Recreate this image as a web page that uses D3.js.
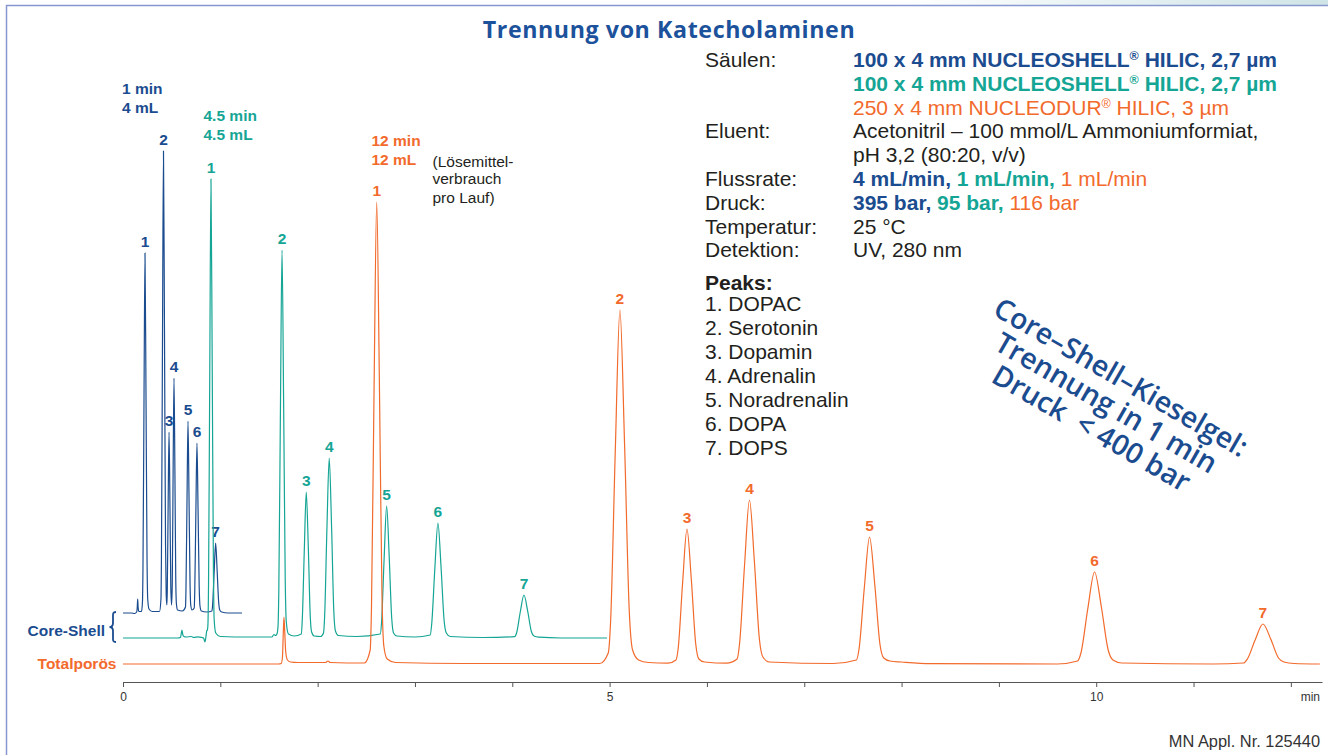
<!DOCTYPE html>
<html>
<head>
<meta charset="utf-8">
<script src="https://cdn.jsdelivr.net/npm/d3@7"></script>
<style>
  body { margin: 0; background: #fff; }
  svg { display: block; font-family: "Liberation Sans", Arial, sans-serif; }
</style>
</head>
<body>
<svg id="chart" width="1328" height="755"></svg>
<script>
// chromatogram traces, [retention time (min), signal]
// NUCLEOSHELL, 4 mL/min (1 min run)
const fastTrace = [
  [0.000, 0], [0.085, 0], [0.120, -0.5], [0.140, 1], [0.146, 5], [0.151, 14], [0.156, 5], [0.163, 1.5], [0.190, 1.5],
  [0.200, 11], [0.205, 43], [0.216, 216], [0.226, 360], [0.236, 223], [0.247, 54], [0.254, 14], [0.267, 4], [0.300, 1.5], [0.375, 1.5],
  [0.390, 14], [0.395, 55], [0.406, 277], [0.416, 462], [0.426, 286], [0.437, 69], [0.444, 18], [0.451, 8],
  [0.455, 22], [0.464, 109], [0.473, 181], [0.482, 112], [0.491, 27], [0.499, 8],
  [0.506, 28], [0.515, 141], [0.524, 235], [0.533, 146], [0.542, 35], [0.549, 9], [0.561, 3], [0.610, 2],
  [0.642, 6], [0.647, 23], [0.658, 115], [0.668, 192], [0.678, 119], [0.689, 29], [0.696, 8], [0.709, 3],
  [0.732, 5], [0.737, 20], [0.749, 102], [0.760, 170], [0.771, 105], [0.783, 26], [0.791, 7], [0.805, 2], [0.860, 1],
  [0.914, 2], [0.921, 8], [0.937, 42], [0.952, 70], [0.967, 43], [0.983, 11], [0.994, 3], [1.014, 1], [1.080, 0], [1.223, 0]
];
// NUCLEOSHELL, 1 mL/min (4.5 min run)
const coreTrace = [
  [0.000, 0], [0.560, 0], [0.590, 0.5], [0.598, 4], [0.606, 8], [0.614, 3.5], [0.625, 1.5], [0.650, 1], [0.700, 1.5],
  [0.730, 0.5], [0.770, 1.2], [0.810, 0.5], [0.828, 0], [0.842, -4], [0.852, 1], [0.860, 7], [0.867, 8],
  [0.873, 14], [0.879, 55], [0.892, 275], [0.904, 459], [0.916, 285], [0.929, 69], [0.937, 18], [0.953, 5], [1.000, 1.5],
  [1.300, 1], [1.530, 1], [1.551, 3.5], [1.568, 2.5], [1.582, 4],
  [1.593, 12], [1.601, 47], [1.618, 233], [1.634, 388], [1.650, 241], [1.667, 58], [1.678, 16], [1.700, 4], [1.760, 2],
  [1.832, 4], [1.842, 18], [1.863, 88], [1.883, 146], [1.904, 91], [1.924, 22], [1.938, 6], [1.965, 2], [2.030, 1.5],
  [2.060, 5], [2.072, 22], [2.095, 108], [2.119, 180], [2.143, 112], [2.166, 27], [2.183, 7], [2.213, 2.5], [2.400, 1.5],
  [2.644, 4], [2.657, 16], [2.683, 79], [2.709, 132], [2.735, 82], [2.761, 20], [2.780, 5], [2.814, 2], [3.000, 1],
  [3.157, 3], [3.172, 14], [3.204, 69], [3.236, 115], [3.268, 71], [3.300, 17], [3.322, 5], [3.363, 1.5], [3.700, 0.5],
  [4.025, 1.3], [4.044, 5], [4.082, 26], [4.120, 43], [4.158, 27], [4.196, 6.5], [4.223, 2], [4.272, 0.8], [4.500, 0], [4.973, 0]
];
// NUCLEODUR (totally porous), 1 mL/min (12 min run)
const totalTrace = [
  [0.000, 0], [1.600, 0], [1.625, 0.5], [1.638, 6], [1.646, 28], [1.654, 47], [1.662, 32], [1.672, 12], [1.690, 4],
  [1.720, 2], [1.800, 1.5], [2.080, 1.5], [2.106, 3], [2.130, 1.5], [2.480, 1],
  [2.540, 14], [2.553, 55], [2.580, 277], [2.607, 462], [2.634, 286], [2.661, 69], [2.680, 18], [2.715, 5], [2.800, 1.5],
  [3.500, 0.5], [4.900, 0.5],
  [4.986, 11], [5.010, 42], [5.058, 212], [5.106, 354], [5.154, 219], [5.202, 53], [5.236, 14], [5.298, 4], [5.400, 1.5], [5.600, 0.8],
  [5.682, 4], [5.705, 16], [5.750, 81], [5.795, 135], [5.840, 84], [5.885, 20], [5.917, 5], [5.975, 2], [6.200, 0.8],
  [6.310, 5], [6.335, 20], [6.386, 98], [6.437, 164], [6.488, 102], [6.539, 25], [6.575, 7], [6.641, 2], [7.300, 0.5],
  [7.536, 4], [7.563, 15], [7.617, 76], [7.671, 127], [7.725, 79], [7.779, 19], [7.817, 6], [7.880, 3], [8.000, 2], [8.300, 0.3], [9.600, 0],
  [9.808, 3], [9.843, 11], [9.913, 55], [9.983, 92], [10.053, 57], [10.123, 14], [10.172, 4], [10.263, 1], [11.200, 0],
  [11.513, 1], [11.553, 5], [11.633, 24], [11.713, 40], [11.793, 25], [11.873, 6], [11.929, 2], [12.033, 0.5], [12.298, 0]
];

// peak numbers and retention times
const fastPeaks = [["1", 0.226], ["2", 0.416], ["3", 0.473], ["4", 0.524], ["5", 0.668], ["6", 0.760], ["7", 0.952]];
const corePeaks = [["1", 0.904], ["2", 1.634], ["3", 1.883], ["4", 2.119], ["5", 2.709], ["6", 3.236], ["7", 4.120]];
const totalPeaks = [["1", 2.607], ["2", 5.106], ["3", 5.795], ["4", 6.437], ["5", 7.671], ["6", 9.983], ["7", 11.713]];

const peakNames = ["DOPAC", "Serotonin", "Dopamin", "Adrenalin", "Noradrenalin", "DOPA", "DOPS"];
const tickValues = d3.range(0, 13);
const tickLabels = [0, 5, 10];

const BLUE = "#1b4c8f", TEAL = "#15a595", ORANGE = "#f26a2c", INK = "#231f20";

const svg = d3.select("#chart");

// frame
const grad = svg.append("defs").append("linearGradient").attr("id", "band");
grad.append("stop").attr("offset", "0%").attr("stop-color", "#ffffff");
grad.append("stop").attr("offset", "100%").attr("stop-color", "#cfe4e6");
svg.append("rect").attr("x", 900).attr("y", 0).attr("width", 428).attr("height", 5).attr("fill", "url(#band)");
svg.append("path").attr("d", "M6.5,755V5.5H1328").attr("fill", "none").attr("stroke", "#8797d0").attr("stroke-width", 1.5);

const x = d3.scaleLinear().domain([0, 12.32]).range([123, 1322]);
const y = d3.scaleLinear().domain([0, 520]).range([664, 144]);

const series = [
  { data: fastTrace, peaks: fastPeaks, color: BLUE, offset: 51 },
  { data: coreTrace, peaks: corePeaks, color: TEAL, offset: 26 },
  { data: totalTrace, peaks: totalPeaks, color: ORANGE, offset: 0 }
];

// axis
const axis = svg.append("g")
  .attr("transform", "translate(0,682)")
  .call(d3.axisBottom(x).tickValues(tickValues).tickSize(5).tickSizeOuter(0).tickPadding(5)
    .tickFormat(d => tickLabels.includes(d) ? d : ""));
axis.select(".domain").attr("stroke", "#555");
axis.selectAll(".tick line").attr("stroke", "#555");
axis.selectAll(".tick text").attr("fill", "#333").style("font-size", "12px").style("font-family", "Liberation Sans, Arial, sans-serif");
svg.append("text").attr("x", 1320).attr("y", 701).attr("text-anchor", "end")
  .style("font-size", "12px").attr("fill", "#333").text("min");

// traces
series.forEach(s => {
  const line = d3.line()
    .x(d => x(d[0]))
    .y(d => y(d[1] + s.offset))
    .curve(d3.curveMonotoneX);
  svg.append("path")
    .datum(s.data)
    .attr("fill", "none")
    .attr("stroke", s.color)
    .attr("stroke-width", 1.2)
    .attr("d", line);

  svg.append("g")
    .selectAll("text")
    .data(s.peaks)
    .join("text")
    .attr("x", d => x(d[1]))
    .attr("y", d => y(d3.least(s.data, p => Math.abs(p[0] - d[1]))[1] + s.offset) - 6.5)
    .attr("text-anchor", "middle")
    .attr("fill", s.color)
    .style("font-size", "15.5px")
    .style("font-weight", "bold")
    .text(d => d[0]);
});

// run annotations
const note = (xp, ys, lines, color, bold) => {
  svg.append("g").selectAll("text").data(lines).join("text")
    .attr("x", xp).attr("y", (d, i) => ys[i])
    .attr("fill", color)
    .style("font-size", "15.5px")
    .style("font-weight", bold ? "bold" : "normal")
    .text(d => d);
};
note(122, [93.5, 112.5], ["1 min", "4 mL"], BLUE, true);
note(203.5, [120.5, 139.5], ["4.5 min", "4.5 mL"], TEAL, true);
note(371.5, [145.5, 164.5], ["12 min", "12 mL"], ORANGE, true);
note(432.5, [166.5, 184, 202.5], ["(Lösemittel-", "verbrauch", "pro Lauf)"], INK, false);

// series names
svg.append("text").attr("x", 105).attr("y", 635.5).attr("text-anchor", "end")
  .attr("fill", BLUE).style("font-size", "15.5px").style("font-weight", "bold").text("Core-Shell");
svg.append("path")
  .attr("d", "M116,612 C112.5,612 113,614 113,618 L113,623 C113,626 112,627 109.5,627 C112,627 113,628 113,631 L113,637 C113,640 112.5,642 116,642")
  .attr("fill", "none").attr("stroke", BLUE).attr("stroke-width", 1.8);
svg.append("text").attr("x", 116.5).attr("y", 669).attr("text-anchor", "end")
  .attr("fill", ORANGE).style("font-size", "15.5px").style("font-weight", "bold").text("Totalporös");

// title
svg.append("text").attr("x", 669).attr("y", 38).attr("text-anchor", "middle")
  .attr("fill", "#1c529b").style("font-family", "'Open Sans', sans-serif").style("font-weight", 700)
  .style("font-size", "23.2px").style("letter-spacing", "0.6px").text("Trennung von Katecholaminen");

// conditions
const infoRows = [
  ["Säulen:", [["100 x 4 mm NUCLEOSHELL", BLUE, 1], ["®", BLUE, 1, 1], [" HILIC, 2,7 µm", BLUE, 1]]],
  ["", [["100 x 4 mm NUCLEOSHELL", TEAL, 1], ["®", TEAL, 1, 1], [" HILIC, 2,7 µm", TEAL, 1]]],
  ["", [["250 x 4 mm NUCLEODUR", ORANGE, 0], ["®", ORANGE, 0, 1], [" HILIC, 3 µm", ORANGE, 0]]],
  ["Eluent:", [["Acetonitril – 100 mmol/L Ammoniumformiat,", INK, 0]]],
  ["", [["pH 3,2 (80:20, v/v)", INK, 0]]],
  ["Flussrate:", [["4 mL/min, ", BLUE, 1], ["1 mL/min, ", TEAL, 1], ["1 mL/min", ORANGE, 0]]],
  ["Druck:", [["395 bar, ", BLUE, 1], ["95 bar, ", TEAL, 1], ["116 bar", ORANGE, 0]]],
  ["Temperatur:", [["25 °C", INK, 0]]],
  ["Detektion:", [["UV, 280 nm", INK, 0]]]
];
const info = svg.append("g").style("font-size", "21px");
infoRows.forEach((r, i) => {
  const yy = 67 + i * 23.8;
  info.append("text").attr("x", 705).attr("y", yy).attr("fill", INK).text(r[0]);
  const t = info.append("text").attr("x", 853).attr("y", yy);
  r[1].forEach((p, j) => {
    const ts = t.append("tspan").attr("fill", p[1]).style("font-weight", p[2] ? "bold" : "normal").text(p[0]);
    if (p[3]) ts.attr("dy", -7).style("font-size", "12.5px");
    else if (j > 0 && r[1][j - 1][3]) ts.attr("dy", 7);
  });
});

// peak list
const plist = svg.append("g").style("font-size", "21px").attr("fill", INK);
plist.append("text").attr("x", 705).attr("y", 289.5).style("font-weight", "bold").text("Peaks:");
plist.selectAll("text.pk").data(peakNames).join("text").attr("class", "pk")
  .attr("x", 705).attr("y", (d, i) => 310.5 + i * 24)
  .text((d, i) => `${i + 1}. ${d}`);

// slogan
const slogan = svg.append("g").attr("transform", "translate(1116,386) rotate(30)")
  .attr("fill", BLUE).style("font-family", "'Open Sans', sans-serif").style("font-weight", 600).style("font-size", "28.5px");
slogan.selectAll("text").data(["Core–Shell–Kieselgel:", "Trennung in 1 min", "Druck  < 400 bar"]).join("text")
  .attr("x", 0).attr("y", (d, i) => i * 29.5).attr("text-anchor", "middle")
  .style("white-space", "pre").text(d => d);

// footer
svg.append("text").attr("x", 1320).attr("y", 747).attr("text-anchor", "end")
  .attr("fill", "#333").style("font-size", "16.4px").text("MN Appl. Nr. 125440");
</script>
</body>
</html>
